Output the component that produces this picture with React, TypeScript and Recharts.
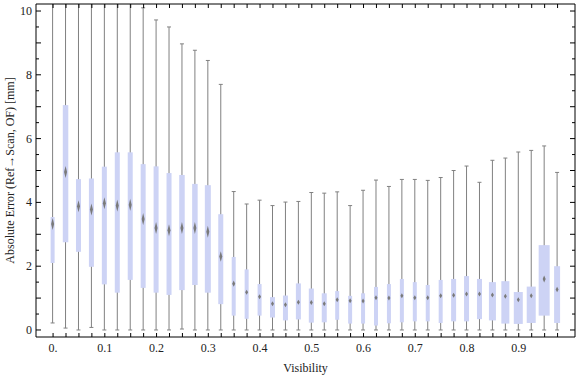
import React from 'react';
import { ComposedChart, Bar, XAxis, YAxis } from 'recharts';

// visibility bins (box positions)
const visibility = [
  0, 0.025, 0.05, 0.075, 0.1, 0.125, 0.15, 0.175, 0.2, 0.225,
  0.25, 0.275, 0.3, 0.325, 0.35, 0.375, 0.4, 0.425, 0.45, 0.475,
  0.5, 0.525, 0.55, 0.575, 0.6, 0.625, 0.65, 0.675, 0.7, 0.725,
  0.75, 0.775, 0.8, 0.825, 0.85, 0.875, 0.9, 0.925, 0.95, 0.975,
];

const whiskerLow = [
  0.22, 0.06, 0, 0.08, 0, 0, 0, 0, 0, 0,
  0.03, 0, 0, 0, 0, 0, 0, 0, 0, 0,
  0, 0, 0, 0, 0, 0, 0, 0, 0, 0,
  0, 0, 0, 0, 0, 0, 0, 0, 0, 0,
];
const q1 = [
  2.1, 2.75, 2.45, 1.98, 1.43, 1.17, 1.57, 1.32, 1.17, 1.1,
  1.25, 1.41, 1.17, 0.81, 0.45, 0.35, 0.45, 0.39, 0.3, 0.33,
  0.23, 0.24, 0.32, 0.2, 0.2, 0.14, 0.21, 0.24, 0.27, 0.27,
  0.22, 0.27, 0.27, 0.34, 0.3, 0.2, 0.19, 0.22, 0.45, 0.22,
];
const median = [
  3.32, 4.95, 3.88, 3.78, 3.97, 3.9, 3.93, 3.48, 3.2, 3.13,
  3.2, 3.2, 3.08, 2.3, 1.45, 1.18, 1.04, 0.82, 0.79, 0.87,
  0.86, 0.82, 0.95, 0.92, 0.91, 1.01, 1.0, 1.07, 1.01, 1.01,
  1.07, 1.09, 1.13, 1.13, 1.1, 1.06, 0.95, 1.07, 1.6, 1.27,
];
const q3 = [
  3.54, 7.05, 4.73, 4.75, 5.12, 5.57, 5.57, 5.2, 5.13, 4.92,
  4.86, 4.58, 4.54, 3.63, 2.29, 1.9, 1.44, 1.03, 1.08, 1.46,
  1.3, 1.15, 1.22, 1.07, 1.15, 1.35, 1.44, 1.6, 1.5, 1.41,
  1.57, 1.6, 1.69, 1.6, 1.5, 1.53, 1.19, 1.36, 2.66, 2.0,
];
const whiskerHigh = [
  11.6, 12.2, 11.3, 11.9, 11.0, 11.5, 10.3, 10.1, 9.72, 9.5,
  8.97, 8.77, 8.45, 7.7, 4.34, 3.95, 4.07, 3.9, 4.01, 4.03,
  4.31, 4.29, 4.33, 3.9, 4.38, 4.7, 4.5, 4.72, 4.72, 4.69,
  4.78, 5.0, 5.14, 4.63, 5.32, 5.39, 5.58, 5.63, 5.77, 4.94,
];
// relative weight of each bin (drives box width)
const weight = [
  0.8, 1.1, 1, 1, 1, 1, 1, 1, 1, 1,
  1.1, 1.1, 1.2, 1, 0.8, 0.8, 0.8, 1, 1, 1,
  1, 1, 0.8, 0.8, 0.8, 0.8, 0.8, 0.8, 0.8, 0.8,
  0.8, 1, 1, 1, 1.4, 1.6, 1.8, 1.8, 2.2, 1.2,
];

const xLabelTicks = [0, 0.1, 0.2, 0.3, 0.4, 0.5, 0.6, 0.7, 0.8, 0.9];
const yTicks = [
  0, 0.5, 1, 1.5, 2, 2.5, 3, 3.5, 4, 4.5, 5, 5.5, 6, 6.5, 7, 7.5, 8, 8.5, 9, 9.5, 10,
];
const yLabelTicks = [0, 2, 4, 6, 8, 10];

const rows = visibility.map((v, i) => ({
  v,
  range: [whiskerLow[i], whiskerHigh[i]],
  lo: whiskerLow[i],
  hi: whiskerHigh[i],
  q1: q1[i],
  med: median[i],
  q3: q3[i],
  w: weight[i],
}));

const FONT = '"Liberation Serif", "Times New Roman", serif';
const BOX = '#cdd3f5';
const WHISKER = '#808080';

const W = 576;
const H = 377;
const MARGIN = { top: 4, right: 1, bottom: 0, left: 0 };
const Y_AXIS_W = 36;
const X_AXIS_H = 40;
const xDomain: [number, number] = [-0.033, 1.0087];
const yDomain: [number, number] = [-0.22, 10.22];

// plot box, same as the one recharts derives from the margin + axis sizes
const plotL = MARGIN.left + Y_AXIS_W;
const plotR = W - MARGIN.right;
const plotT = MARGIN.top;
const plotB = H - MARGIN.bottom - X_AXIS_H;
const sx = (v: number) => plotL + ((v - xDomain[0]) / (xDomain[1] - xDomain[0])) * (plotR - plotL);
const sy = (v: number) => plotB - ((v - yDomain[0]) / (yDomain[1] - yDomain[0])) * (plotB - plotT);

function BoxShape(props: any) {
  const { x, y, width, height, payload } = props;
  const cx = x + width / 2;
  const yHi = Math.min(y, y + height);
  const yLo = Math.max(y, y + height);
  const px = (val: number) => yLo + ((val - payload.lo) / (payload.hi - payload.lo)) * (yHi - yLo);
  const bw = 5 * payload.w;
  const yq3 = px(payload.q3);
  const yq1 = px(payload.q1);
  const ym = px(payload.med);
  const mh = Math.max(5, Math.min(12, 4 + (payload.med - 1) * 5));
  const mw = 1.5;
  return (
    <g>
      <line x1={cx} x2={cx} y1={yLo} y2={yHi} stroke={WHISKER} strokeWidth={1} />
      <line x1={cx - 2} x2={cx + 2} y1={yLo} y2={yLo} stroke={WHISKER} strokeWidth={1} />
      <line x1={cx - 2} x2={cx + 2} y1={yHi} y2={yHi} stroke={WHISKER} strokeWidth={1} />
      <rect x={cx - bw / 2} y={yq3} width={bw} height={yq1 - yq3} fill={BOX} />
      <polygon
        points={`${cx},${ym - mh / 2} ${cx + mw},${ym} ${cx},${ym + mh / 2} ${cx - mw},${ym}`}
        fill="#7a7a7a"
        filter="url(#medBlur)"
      />
    </g>
  );
}

function BottomTick(props: any) {
  const { x, y, payload } = props;
  const v = payload.value;
  const labelled = xLabelTicks.some((t) => Math.abs(t - v) < 1e-6);
  return (
    <g>
      <line x1={x} x2={x} y1={y} y2={y - 4} stroke="#000" />
      {labelled && (
        <text x={x} y={y + 15} textAnchor="middle" fontSize={12} fontFamily={FONT} fill="#222">
          {v === 0 ? '0.' : v.toFixed(1)}
        </text>
      )}
    </g>
  );
}

function LeftTick(props: any) {
  const { x, y, payload } = props;
  const v = payload.value;
  const major = yLabelTicks.includes(v);
  const len = Number.isInteger(v) ? 5 : 3;
  return (
    <g>
      <line x1={x} x2={x + len} y1={y} y2={y} stroke="#000" />
      {major && (
        <text x={x - 4} y={y + 4} textAnchor="end" fontSize={12} fontFamily={FONT} fill="#222">
          {v}
        </text>
      )}
    </g>
  );
}

export default function App() {
  return (
    <div style={{ position: 'absolute', left: 0, top: 0, width: W, height: H, background: '#fff' }}>
      <ComposedChart width={W} height={H} data={rows} margin={MARGIN}>
        <defs>
          <filter id="medBlur" x="-100%" y="-50%" width="300%" height="200%">
            <feGaussianBlur stdDeviation="0.7" />
          </filter>
        </defs>
        <XAxis
          xAxisId="b"
          type="number"
          dataKey="v"
          domain={xDomain}
          allowDataOverflow
          ticks={visibility}
          interval={0}
          tickSize={0}
          tickMargin={0}
          tick={<BottomTick />}
          height={X_AXIS_H}
          axisLine={{ stroke: '#000' }}
        />
        <YAxis
          yAxisId="l"
          type="number"
          domain={yDomain}
          allowDataOverflow
          ticks={yTicks}
          interval={0}
          tickSize={0}
          tickMargin={0}
          tick={<LeftTick />}
          width={Y_AXIS_W}
          axisLine={{ stroke: '#000' }}
        />
        <Bar
          xAxisId="b"
          yAxisId="l"
          dataKey="range"
          barSize={10}
          shape={<BoxShape />}
          isAnimationActive={false}
        />
      </ComposedChart>
      {/* top/right frame with inward ticks, and axis titles */}
      <svg
        width={W}
        height={H}
        style={{ position: 'absolute', left: 0, top: 0, pointerEvents: 'none' }}
      >
        <line x1={plotL} x2={plotR} y1={plotT} y2={plotT} stroke="#000" />
        <line x1={plotR} x2={plotR} y1={plotT} y2={plotB} stroke="#000" />
        {visibility.map((v) => (
          <line key={`t${v}`} x1={sx(v)} x2={sx(v)} y1={plotT} y2={plotT + 4} stroke="#000" />
        ))}
        {yTicks.map((t) => (
          <line
            key={`r${t}`}
            x1={plotR}
            x2={plotR - (Number.isInteger(t) ? 5 : 3)}
            y1={sy(t)}
            y2={sy(t)}
            stroke="#000"
          />
        ))}
        <text
          x={10}
          y={(plotT + plotB) / 2}
          transform={`rotate(-90, 10, ${(plotT + plotB) / 2})`}
          textAnchor="middle"
          dominantBaseline="central"
          fontSize={12}
          fontFamily={FONT}
          fill="#222"
        >
          Absolute Error (Ref→Scan, OF) [mm]
        </text>
        <text x={(plotL + plotR) / 2} y={372} textAnchor="middle" fontSize={12} fontFamily={FONT} fill="#222">
          Visibility
        </text>
      </svg>
    </div>
  );
}
